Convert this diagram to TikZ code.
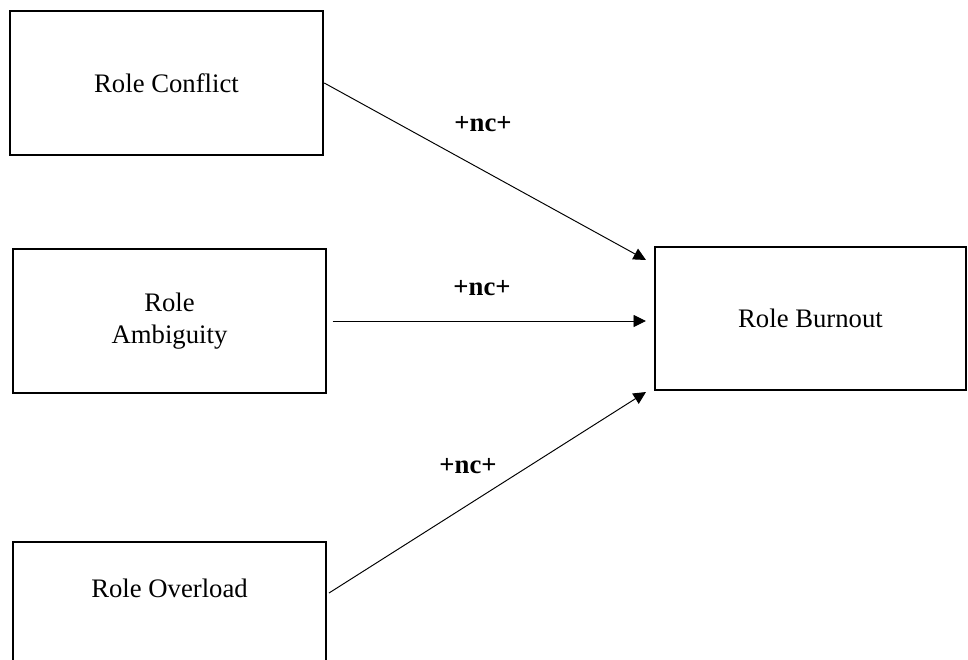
\documentclass[tikz,border=0pt]{standalone}
\usepackage{fontspec}
\setmainfont{Liberation Serif}
\usepackage{tikz}
\usetikzlibrary{arrows.meta}

\tikzset{
  rolebox/.style={draw=black,line width=1.5pt,rectangle,minimum width=6.26cm,minimum height=2.88cm,
    font=\fontsize{15.2}{18.5}\selectfont,align=center,inner sep=0pt},
  roletext/.style={font=\fontsize{15.2}{18.5}\selectfont,inner sep=0pt},
  effect/.style={font=\fontsize{15.2}{18.5}\selectfont\bfseries,inner sep=0pt},
  arr/.style={-{Triangle[length=0.25cm,width=0.24cm]},line width=0.55pt}
}

\begin{document}
\begin{tikzpicture}
    [line cap=butt,line join=miter,x=0.02cm,y=-0.02cm]
\useasboundingbox (0,0) rectangle (968,660);
%the four boxes
\node[rolebox] (conflict) at (166.5,83) {Role Conflict};
\node[rolebox] (ambiguity) at (169.5,321) {Role\\Ambiguity};
\node[rolebox,minimum height=3.16cm] (overload) at (169.5,621) {};
\node[roletext] (overloadtxt) at (169.5,588) {Role Overload};
\node[rolebox,minimum width=6.22cm,minimum height=2.86cm] (burnout) at (810.5,318.5) {Role Burnout};

%arrow ends
\coordinate (out3) at (329,593);
\coordinate (in1) at (646,260);
\coordinate (in2) at (646,321);
\coordinate (in3) at (646,392);

%the arrows
\draw[arr] (conflict.east) -- (in1);
\draw[arr,shorten <=3pt] (ambiguity.east) -- (in2);
\draw[arr] (out3) -- (in3);

%the labels
\node[effect] (lab1) at (483,124) {+nc+};
\node[effect] (lab2) at (482,288) {+nc+};
\node[effect] (lab3) at (468,466) {+nc+};

\end{tikzpicture}
\end{document}
